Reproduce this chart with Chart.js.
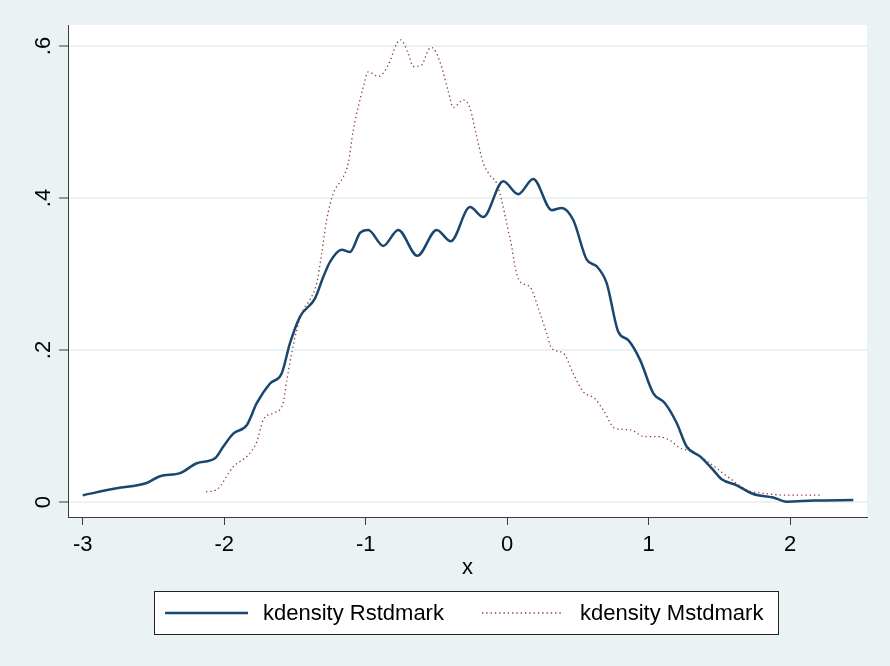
<!DOCTYPE html>
<html>
<head>
<meta charset="utf-8">
<script src="https://cdn.jsdelivr.net/npm/chart.js@4.4.1/dist/chart.umd.min.js"></script>
<style>
  html, body { margin: 0; padding: 0; background: #eaf2f3; }
  #wrap { width: 890px; height: 666px; }
</style>
</head>
<body>
<div id="wrap"><canvas id="kdens" width="890" height="666"></canvas></div>
<script>
// Kernel density estimates
const rX = [-3, -2.76, -2.548, -2.454, -2.312, -2.194, -2.065, -2.006, -1.936, -1.841, -1.77, -1.676, -1.594, -1.535, -1.464, -1.358, -1.30, -1.252, -1.170, -1.111, -1.04, -0.982, -0.876, -0.770, -0.635, -0.498, -0.399, -0.263, -0.169, -0.028, 0.078, 0.184, 0.315, 0.385, 0.467, 0.562, 0.633, 0.703, 0.785, 0.856, 0.939, 1.033, 1.115, 1.198, 1.268, 1.363, 1.457, 1.516, 1.622, 1.739, 1.880, 1.975, 2.163, 2.446];
const rY = [0.009, 0.018, 0.025, 0.034, 0.038, 0.051, 0.0575, 0.073, 0.090, 0.101, 0.130, 0.156, 0.169, 0.209, 0.244, 0.268, 0.296, 0.316, 0.332, 0.329, 0.354, 0.358, 0.337, 0.358, 0.324, 0.358, 0.343, 0.388, 0.375, 0.422, 0.405, 0.425, 0.384, 0.387, 0.371, 0.319, 0.310, 0.288, 0.224, 0.213, 0.187, 0.143, 0.130, 0.104, 0.073, 0.060, 0.042, 0.030, 0.022, 0.0105, 0.006, 0.0005, 0.002, 0.0026];

const mX = [-2.129, -2.058, -1.936, -1.830, -1.77, -1.724, -1.653, -1.587, -1.558, -1.523, -1.488, -1.441, -1.394, -1.346, -1.311, -1.276, -1.229, -1.158, -1.123, -1.088, -1.052, -1.017, -0.982, -0.911, -0.840, -0.781, -0.753, -0.699, -0.664, -0.604, -0.557, -0.534, -0.475, -0.416, -0.381, -0.310, -0.263, -0.216, -0.169, -0.122, -0.074, -0.039, -0.004, 0.032, 0.055, 0.090, 0.161, 0.232, 0.279, 0.315, 0.396, 0.467, 0.538, 0.620, 0.679, 0.762, 0.868, 0.974, 1.068, 1.151, 1.221, 1.315, 1.433, 1.575, 1.693, 1.834, 1.975, 2.223];
const mY = [0.0136, 0.0158, 0.0465, 0.0618, 0.079, 0.108, 0.117, 0.128, 0.160, 0.196, 0.226, 0.253, 0.266, 0.288, 0.327, 0.371, 0.406, 0.428, 0.446, 0.489, 0.520, 0.546, 0.566, 0.560, 0.575, 0.603, 0.608, 0.590, 0.573, 0.575, 0.595, 0.598, 0.579, 0.540, 0.519, 0.529, 0.518, 0.481, 0.446, 0.430, 0.419, 0.397, 0.367, 0.336, 0.310, 0.290, 0.283, 0.248, 0.222, 0.202, 0.196, 0.169, 0.145, 0.136, 0.121, 0.097, 0.095, 0.086, 0.086, 0.081, 0.071, 0.066, 0.051, 0.031, 0.016, 0.011, 0.009, 0.009];

const xTicks = [-3, -2, -1, 0, 1, 2];
const yTicks = [0, 0.2, 0.4, 0.6];
const yTickLabels = ['0', '.2', '.4', '.6'];
const seriesNames = ['kdensity Rstdmark', 'kdensity Mstdmark'];

const FONT = "'Liberation Sans', Arial, sans-serif";
const BG = '#eaf2f3';
const AXIS = '#3c3c3c';
const NAVY = '#1a476f';
const MAROON = '#90353b';

function toPoints(xs, ys) {
    return xs.map((x, i) => ({ x: x, y: ys[i] }));
}

// page + plot region backgrounds
const backdrop = {
    id: 'backdrop',
    beforeDraw(chart) {
        const { ctx, chartArea: a } = chart;
        ctx.save();
        ctx.fillStyle = BG;
        ctx.fillRect(0, 0, chart.width, chart.height);
        ctx.fillStyle = '#ffffff';
        ctx.fillRect(a.left, a.top, a.right - a.left, a.bottom - a.top);
        ctx.restore();
    }
};

// vertical y labels, Stata style
const yLabels = {
    id: 'yLabels',
    afterDraw(chart) {
        const { ctx } = chart;
        const y = chart.scales.y;
        ctx.save();
        ctx.fillStyle = '#000';
        ctx.font = `22px ${FONT}`;
        ctx.textAlign = 'center';
        ctx.textBaseline = 'middle';
        yTicks.forEach((v, i) => {
            ctx.save();
            ctx.translate(44, y.getPixelForValue(v));
            ctx.rotate(-Math.PI / 2);
            ctx.fillText(yTickLabels[i], 0, 0);
            ctx.restore();
        });
        ctx.restore();
    }
};

// boxed legend under the axis
const boxLegend = {
    id: 'boxLegend',
    afterDraw(chart) {
        const { ctx } = chart;
        const ds = chart.data.datasets;
        ctx.save();
        ctx.fillStyle = '#ffffff';
        ctx.fillRect(154, 591, 624, 43);
        ctx.strokeStyle = '#222';
        ctx.lineWidth = 1;
        ctx.strokeRect(154.5, 591.5, 624, 43);

        const rows = [
            { x0: 165, x1: 248, tx: 263 },
            { x0: 482, x1: 562, tx: 580 }
        ];
        ctx.font = `22px ${FONT}`;
        ctx.textBaseline = 'middle';
        ctx.textAlign = 'left';
        rows.forEach((r, i) => {
            ctx.beginPath();
            ctx.strokeStyle = ds[i].borderColor;
            ctx.lineWidth = ds[i].borderWidth;
            ctx.setLineDash(ds[i].borderDash || []);
            ctx.moveTo(r.x0, 613);
            ctx.lineTo(r.x1, 613);
            ctx.stroke();
            ctx.setLineDash([]);
            ctx.fillStyle = '#000';
            ctx.fillText(ds[i].label, r.tx, 614);
        });
        ctx.restore();
    }
};

new Chart(document.getElementById('kdens'), {
    type: 'line',
    data: {
        datasets: [{
            label: seriesNames[0],
            data: toPoints(rX, rY),
            borderColor: NAVY,
            borderWidth: 2.5,
            pointRadius: 0,
            cubicInterpolationMode: 'monotone',
            fill: false
        }, {
            label: seriesNames[1],
            data: toPoints(mX, mY),
            borderColor: MAROON,
            borderWidth: 1.3,
            borderDash: [1.3, 3],
            pointRadius: 0,
            cubicInterpolationMode: 'monotone',
            fill: false
        }]
    },
    options: {
        responsive: false,
        animation: false,
        devicePixelRatio: 1,
        layout: { padding: { left: 0, right: 23, top: 25, bottom: 85 } },
        plugins: {
            legend: { display: false },
            tooltip: { enabled: false }
        },
        scales: {
            x: {
                type: 'linear',
                min: -3.104,
                max: 2.543,
                afterBuildTicks: (scale) => { scale.ticks = xTicks.map(v => ({ value: v })); },
                afterFit: (scale) => { scale.height = 64; },
                grid: {
                    drawOnChartArea: false,
                    drawTicks: true,
                    tickLength: 8,
                    tickColor: AXIS,
                    tickWidth: 1
                },
                border: { color: AXIS, width: 1 },
                ticks: {
                    color: '#000',
                    font: { family: FONT, size: 22 },
                    padding: 7,
                    maxRotation: 0,
                    autoSkip: false
                },
                title: {
                    display: true,
                    text: 'x',
                    color: '#000',
                    font: { family: FONT, size: 22 },
                    padding: { top: 0, bottom: 0 }
                }
            },
            y: {
                type: 'linear',
                min: -0.0197,
                max: 0.6276,
                afterBuildTicks: (scale) => { scale.ticks = yTicks.map(v => ({ value: v })); },
                afterFit: (scale) => { scale.width = 68; },
                grid: {
                    color: BG,
                    lineWidth: 2,
                    drawTicks: true,
                    tickLength: 9,
                    tickColor: AXIS,
                    tickWidth: 1
                },
                border: { color: AXIS, width: 1 },
                ticks: { display: false }
            }
        }
    },
    plugins: [backdrop, yLabels, boxLegend]
});
</script>
</body>
</html>
